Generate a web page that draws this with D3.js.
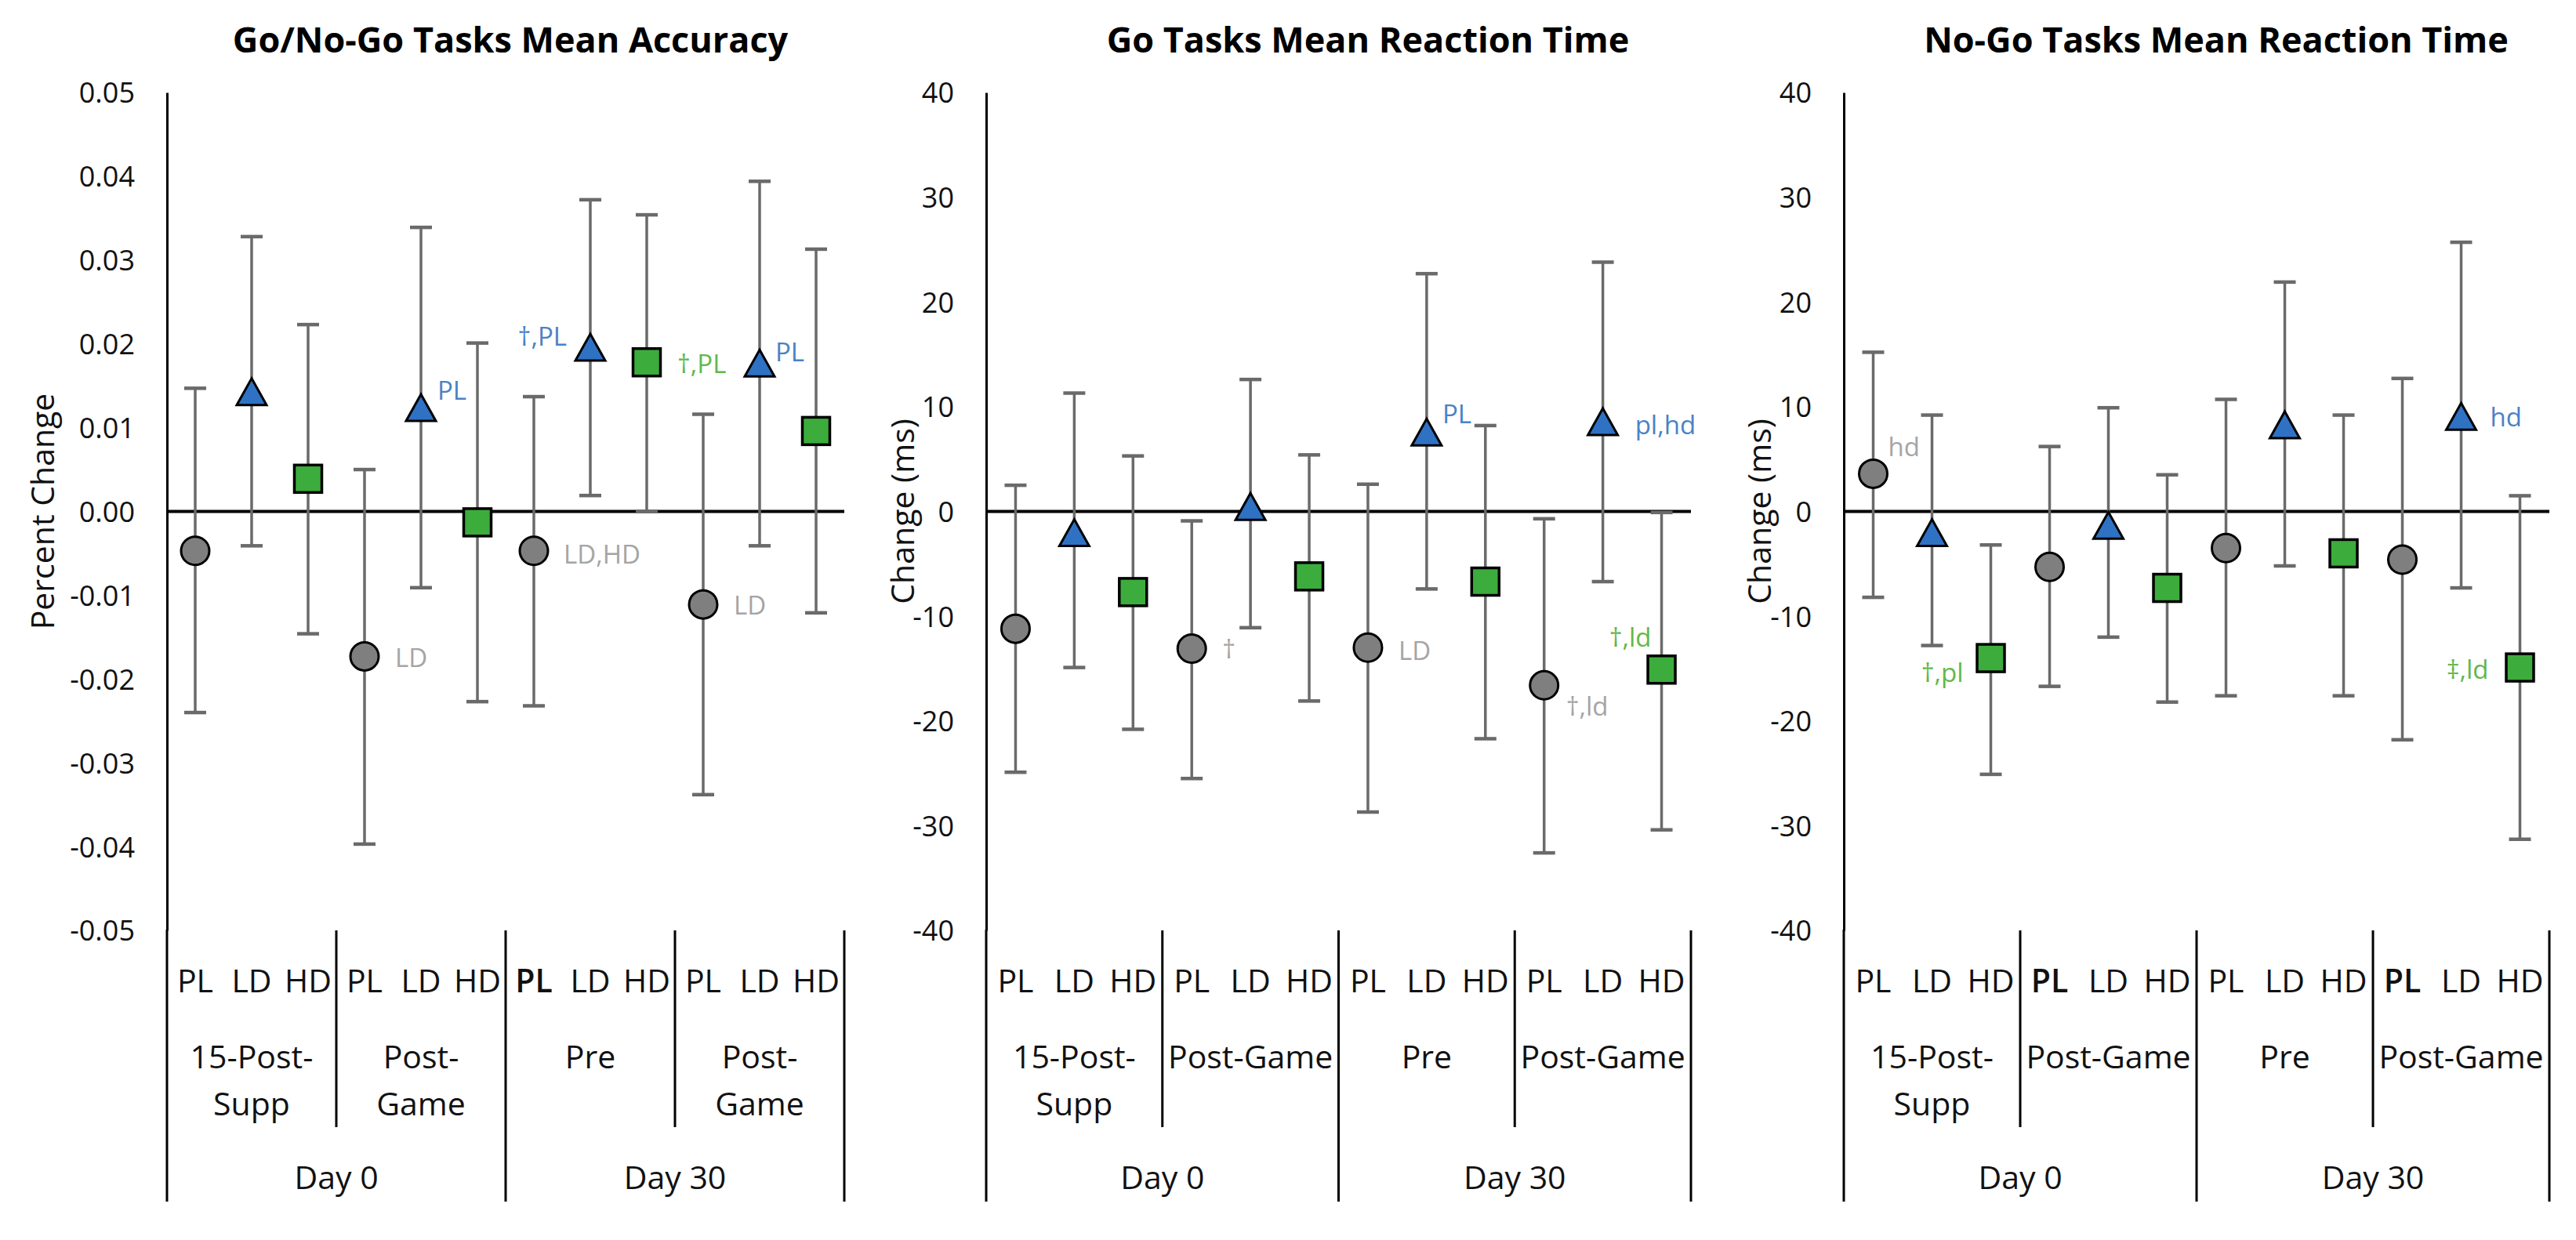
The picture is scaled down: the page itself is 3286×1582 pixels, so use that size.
<!DOCTYPE html>
<html>
<head>
<meta charset="utf-8">
<script src="https://cdn.jsdelivr.net/npm/d3@7"></script>
<style>
  html, body { margin: 0; padding: 0; background: #fff; }
  svg { display: block; font-family: "Open Sans", "DejaVu Sans", sans-serif; }
</style>
</head>
<body>
<svg id="chart" width="3286" height="1582"></svg>
<script>
// ---------------- DATA ----------------
const treatments = ["PL", "LD", "HD"];
const timepointsAcc = [["15-Post-", "Supp"], ["Post-", "Game"], ["Pre"], ["Post-", "Game"]];
const timepointsRT = [["15-Post-", "Supp"], ["Post-Game"], ["Pre"], ["Post-Game"]];
const days = ["Day 0", "Day 30"];

const chartTitles = ["Go/No-Go Tasks Mean Accuracy", "Go Tasks Mean Reaction Time", "No-Go Tasks Mean Reaction Time"];
const yTitles = ["Percent Change", "Change (ms)", "Change (ms)"];

const accTicks = [-0.05, -0.04, -0.03, -0.02, -0.01, 0, 0.01, 0.02, 0.03, 0.04, 0.05];
const rtTicks = [-40, -30, -20, -10, 0, 10, 20, 30, 40];

// order: timepoint-major, PL / LD / HD within each
const accMean  = [-0.0047, 0.0142, 0.0039, -0.0173, 0.0123, -0.0013, -0.0047, 0.0195, 0.0178, -0.0111, 0.0176, 0.0096];
const accUpper = [ 0.0147, 0.0328, 0.0223,  0.0050, 0.0339,  0.0201,  0.0137, 0.0372, 0.0354,  0.0116, 0.0394, 0.0313];
const accLower = [-0.0240,-0.0041,-0.0146, -0.0397,-0.0091, -0.0227, -0.0232, 0.0019, 0.0000, -0.0338,-0.0041,-0.0121];

const goMean  = [-11.2, -2.1, -7.7, -13.1,   0.4,  -6.2, -13.0,  7.5,  -6.7, -16.6,  8.5, -15.1];
const goUpper = [  2.5, 11.3,  5.3,  -0.9,  12.6,   5.4,   2.6, 22.7,   8.2,  -0.7, 23.8,  -0.1];
const goLower = [-24.9,-14.9,-20.8, -25.5, -11.1, -18.1, -28.7, -7.4, -21.7, -32.6, -6.7, -30.4];

const nogoMean  = [  3.6,  -2.1, -14.0,  -5.3,  -1.4,  -7.3,  -3.5,  8.2,  -4.0,  -4.6,  9.0, -14.9];
const nogoUpper = [ 15.2,   9.2,  -3.2,   6.2,   9.9,   3.5,  10.7, 21.9,   9.2,  12.7, 25.7,   1.5];
const nogoLower = [ -8.2, -12.8, -25.1, -16.7, -12.0, -18.2, -17.6, -5.2, -17.6, -21.8, -7.3, -31.3];

// significance annotations: [chart, point index, text]
const annotations = [
  [0, 3, "LD"], [0, 4, "PL"], [0, 6, "LD,HD"], [0, 7, "\u2020,PL"], [0, 8, "\u2020,PL"], [0, 9, "LD"], [0, 10, "PL"],
  [1, 3, "\u2020"], [1, 6, "LD"], [1, 7, "PL"], [1, 9, "\u2020,ld"], [1, 10, "pl,hd"], [1, 11, "\u2020,ld"],
  [2, 0, "hd"], [2, 2, "\u2020,pl"], [2, 10, "hd"], [2, 11, "\u2021,ld"]
];

// ---------------- LAYOUT / STYLE ----------------
const FONT = '"Open Sans", "DejaVu Sans", sans-serif';
const TOP = 118, BOTTOM = 1187;
const loc = d3.formatLocale({ decimal: ".", thousands: ",", grouping: [3], currency: ["", ""], minus: "-" });
const layout = [
  { x0: 213,  x1: 1077, yTitleX: 54,   titleX: 651,  fmt: loc.format(".2f"), boldPL: [2] },
  { x0: 1258, x1: 2157, yTitleX: 1151, titleX: 1745, fmt: loc.format("d"),   boldPL: [] },
  { x0: 2352, x1: 3252, yTitleX: 2244, titleX: 2827, fmt: loc.format("d"),   boldPL: [1, 3] }
];
// placement of annotation text relative to its marker: [anchor, dx, dy]
const annoPlace = {
  "0-3": ["start", 39, 2], "0-4": ["start", 21, -23], "0-6": ["start", 38, 4], "0-7": ["end", -30, -15],
  "0-8": ["start", 39, 2], "0-9": ["start", 39, 1], "0-10": ["start", 20, -15],
  "1-3": ["start", 39, 1], "1-6": ["start", 39, 4], "1-7": ["start", 20, -24], "1-9": ["start", 28, 27],
  "1-10": ["start", 41, 3], "1-11": ["end", -13, -41],
  "2-0": ["start", 19, -34], "2-2": ["end", -35, 19], "2-10": ["start", 37, 0], "2-11": ["end", -40, 3]
};
const seriesStyle = [
  { shape: "circle",   fill: "#7f7f7f", text: "#a5a5a5" },
  { shape: "triangle", fill: "#2f72c4", text: "#4a82c6" },
  { shape: "square",   fill: "#3cac3c", text: "#62b84a" }
];
const ERR = "#6a6a6a";

const charts = [
  { mean: accMean, upper: accUpper, lower: accLower, ticks: accTicks, domain: [-0.05, 0.05], groups: timepointsAcc },
  { mean: goMean, upper: goUpper, lower: goLower, ticks: rtTicks, domain: [-40, 40], groups: timepointsRT },
  { mean: nogoMean, upper: nogoUpper, lower: nogoLower, ticks: rtTicks, domain: [-40, 40], groups: timepointsRT }
];

const svg = d3.select("#chart");

charts.forEach((c, ci) => {
  const L = layout[ci];
  const g = svg.append("g");
  const nG = c.groups.length, nT = treatments.length;
  const idx = d3.range(nG * nT);
  const x = d3.scaleBand().domain(idx).range([L.x0, L.x1]).padding(0);
  const bw = x.bandwidth();
  const cx = i => x(i) + bw / 2;
  const y = d3.scaleLinear().domain(c.domain).range([BOTTOM, TOP]);

  // title
  g.append("text").attr("x", L.titleX).attr("y", 67)
    .attr("text-anchor", "middle").attr("font-size", 45).attr("font-weight", 700)
    .attr("fill", "#000").text(chartTitles[ci]);

  // y axis title
  g.append("text")
    .attr("transform", `translate(${L.yTitleX},${(TOP + BOTTOM) / 2}) rotate(-90)`)
    .attr("text-anchor", "middle").attr("dy", "0.36em")
    .attr("font-size", 41).attr("fill", "#111").text(yTitles[ci]);

  // y axis via d3
  const yAxis = d3.axisLeft(y).tickValues(c.ticks).tickFormat(L.fmt).tickSize(0).tickPadding(41);
  const ag = g.append("g").attr("transform", `translate(${L.x0},0)`).call(yAxis);
  ag.select(".domain").attr("stroke", "#000").attr("stroke-width", 3);
  ag.selectAll(".tick text").attr("font-size", 36).attr("font-family", FONT).attr("fill", "#111")
    .attr("dy", "0.36em");

  // zero line
  g.append("line").attr("x1", L.x0).attr("x2", L.x1).attr("y1", y(0)).attr("y2", y(0))
    .attr("stroke", "#000").attr("stroke-width", 4);

  // category axis: separators
  const groupEdges = d3.range(nG + 1).map(k => x(k * nT) === undefined ? L.x1 : x(k * nT));
  groupEdges.forEach((ex, k) => {
    const isDayEdge = (k % (nG / days.length) === 0);
    if (k === 0) {
      g.append("line").attr("x1", ex).attr("x2", ex).attr("y1", BOTTOM - 1).attr("y2", 1533)
        .attr("stroke", "#000").attr("stroke-width", 3);
    } else {
      g.append("line").attr("x1", ex).attr("x2", ex).attr("y1", BOTTOM)
        .attr("y2", isDayEdge ? 1533 : 1438)
        .attr("stroke", "#000").attr("stroke-width", 3);
    }
  });

  // treatment labels
  idx.forEach(i => {
    const gi = Math.floor(i / nT), ti = i % nT;
    g.append("text").attr("x", cx(i)).attr("y", 1266).attr("text-anchor", "middle")
      .attr("font-size", 41).attr("fill", "#111")
      .attr("font-weight", (ti === 0 && L.boldPL.includes(gi)) ? 600 : 400)
      .text(treatments[ti]);
  });
  // timepoint labels
  c.groups.forEach((lines, gi) => {
    const mid = (x(gi * nT) + x(gi * nT + nT - 1) + bw) / 2;
    lines.forEach((ln, li) => {
      g.append("text").attr("x", mid).attr("y", 1363 + li * 60).attr("text-anchor", "middle")
        .attr("font-size", 41).attr("fill", "#111").text(ln);
    });
  });
  // day labels
  const perDay = nG / days.length;
  days.forEach((d, di) => {
    const a = x(di * perDay * nT), b = x((di + 1) * perDay * nT - 1) + bw;
    g.append("text").attr("x", (a + b) / 2).attr("y", 1517).attr("text-anchor", "middle")
      .attr("font-size", 41).attr("fill", "#111").text(d);
  });

  // error bars
  const eb = g.append("g");
  idx.forEach(i => {
    const px = cx(i);
    eb.append("line").attr("x1", px).attr("x2", px).attr("y1", y(c.upper[i])).attr("y2", y(c.lower[i]))
      .attr("stroke", ERR).attr("stroke-width", 3.5);
    [c.upper[i], c.lower[i]].forEach(v => {
      eb.append("line").attr("x1", px - 14).attr("x2", px + 14).attr("y1", y(v)).attr("y2", y(v))
        .attr("stroke", ERR).attr("stroke-width", 4.5);
    });
  });

  // markers
  const mk = g.append("g");
  idx.forEach(i => {
    const s = seriesStyle[i % nT];
    const px = cx(i), py = y(c.mean[i]);
    if (s.shape === "circle") {
      mk.append("circle").attr("cx", px).attr("cy", py).attr("r", 18)
        .attr("fill", s.fill).attr("stroke", "#000").attr("stroke-width", 3);
    } else if (s.shape === "square") {
      mk.append("rect").attr("x", px - 17.5).attr("y", py - 17.5).attr("width", 35).attr("height", 35)
        .attr("fill", s.fill).attr("stroke", "#000").attr("stroke-width", 3.5);
    } else {
      mk.append("path").attr("d", `M${px},${py - 18} L${px + 19},${py + 16} L${px - 19},${py + 16} Z`)
        .attr("fill", s.fill).attr("stroke", "#000").attr("stroke-width", 3).attr("stroke-linejoin", "miter");
    }
  });

  // annotations
  annotations.filter(a => a[0] === ci).forEach(a => {
    const i = a[1];
    const s = seriesStyle[i % nT];
    const p = annoPlace[`${ci}-${i}`];
    g.append("text").attr("x", cx(i) + p[1]).attr("y", y(c.mean[i]) + p[2])
      .attr("dy", "0.36em").attr("text-anchor", p[0])
      .attr("font-size", 33).attr("fill", s.text).text(a[2]);
  });
});
</script>
</body>
</html>
